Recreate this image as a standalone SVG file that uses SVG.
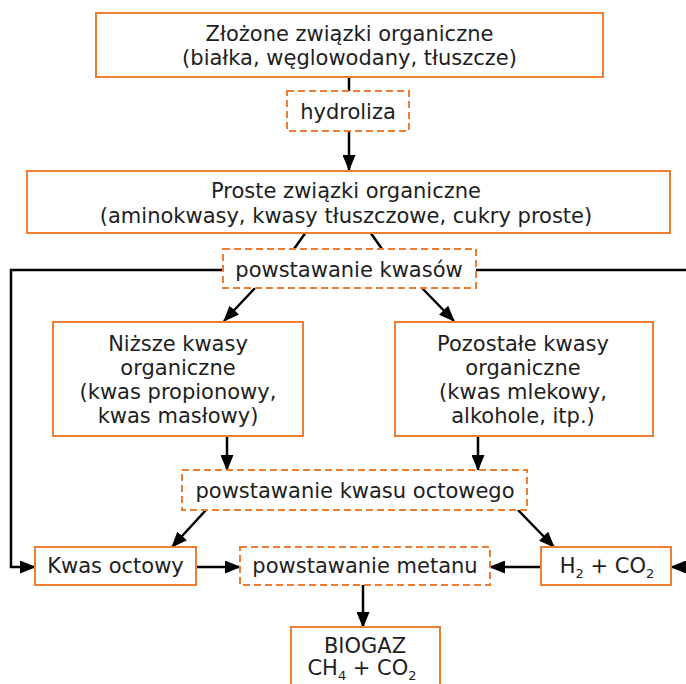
<svg xmlns="http://www.w3.org/2000/svg" width="686" height="684" viewBox="0 0 686 684">
<style>
.box{fill:#fff;stroke:#ed7d31;stroke-width:2}
.dash{fill:#fff;stroke:#ed7d31;stroke-width:2;stroke-dasharray:7,4}
text{font-family:"DejaVu Sans",Verdana,sans-serif;font-size:21px;fill:#1e1e1e;text-anchor:middle}
.sub{font-size:13px}
.c{fill:none;stroke:#000;stroke-width:2.5}
</style>
<defs>
<marker id="ah" viewBox="0 0 16 13" markerUnits="userSpaceOnUse" markerWidth="16" markerHeight="13" refX="15" refY="6.5" orient="auto">
<path d="M0,0 L16,6.5 L0,13 z" fill="#000"/>
</marker>
</defs>
<rect width="686" height="684" fill="#fff"/>
<g id="connectors">
<line class="c" x1="349" y1="77" x2="349" y2="91"/>
<line class="c" x1="349" y1="131" x2="349" y2="170" marker-end="url(#ah)"/>
<line class="c" x1="306" y1="232" x2="294" y2="249"/>
<line class="c" x1="370" y1="232" x2="382" y2="249"/>
<path class="c" d="M223,270 H11 V567 H35" marker-end="url(#ah)"/>
<path class="c" d="M476,270 H692 V567 H671" marker-end="url(#ah)"/>
<line class="c" x1="255" y1="288" x2="224" y2="321" marker-end="url(#ah)"/>
<line class="c" x1="422" y1="288" x2="454" y2="321" marker-end="url(#ah)"/>
<line class="c" x1="227" y1="436" x2="227" y2="470" marker-end="url(#ah)"/>
<line class="c" x1="478" y1="436" x2="478" y2="470" marker-end="url(#ah)"/>
<line class="c" x1="206" y1="510" x2="172" y2="547" marker-end="url(#ah)"/>
<line class="c" x1="518" y1="510" x2="554" y2="547" marker-end="url(#ah)"/>
<line class="c" x1="196" y1="567" x2="240" y2="567" marker-end="url(#ah)"/>
<line class="c" x1="541" y1="567" x2="490" y2="567" marker-end="url(#ah)"/>
<line class="c" x1="363" y1="585" x2="363" y2="627" marker-end="url(#ah)"/>
</g>
<g id="zlozone">
<rect class="box" x="96" y="13" width="507" height="64"/>
<text x="349.5" y="41">Złożone związki organiczne</text>
<text x="349.5" y="65">(białka, węglowodany, tłuszcze)</text>
</g>
<g id="hydroliza">
<rect class="dash" x="287" y="91" width="122" height="40"/>
<text x="348" y="119">hydroliza</text>
</g>
<g id="proste">
<rect class="box" x="27" y="171" width="643" height="62"/>
<text x="346" y="198">Proste związki organiczne</text>
<text x="346" y="223">(aminokwasy, kwasy tłuszczowe, cukry proste)</text>
</g>
<g id="kwasow">
<rect class="dash" x="223" y="249" width="253" height="39"/>
<text x="349" y="277">powstawanie kwasów</text>
</g>
<g id="nizsze">
<rect class="box" x="53" y="322" width="250" height="114"/>
<text x="178" y="351">Niższe kwasy</text>
<text x="178" y="375">organiczne</text>
<text x="178" y="399">(kwas propionowy,</text>
<text x="178" y="423">kwas masłowy)</text>
</g>
<g id="pozostale">
<rect class="box" x="395" y="322" width="258" height="114"/>
<text x="523" y="351">Pozostałe kwasy</text>
<text x="523" y="375">organiczne</text>
<text x="523" y="399">(kwas mlekowy,</text>
<text x="523" y="423">alkohole, itp.)</text>
</g>
<g id="octowego">
<rect class="dash" x="182" y="470" width="345" height="40"/>
<text x="355" y="498">powstawanie kwasu octowego</text>
</g>
<g id="kwas-octowy">
<rect class="box" x="35" y="547" width="161" height="38"/>
<text x="115.5" y="573">Kwas octowy</text>
</g>
<g id="metanu">
<rect class="dash" x="240" y="547" width="250" height="38"/>
<text x="365" y="573">powstawanie metanu</text>
</g>
<g id="h2co2">
<rect class="box" x="541" y="547" width="130" height="38"/>
<text x="607" y="573">H<tspan class="sub" dy="5">2</tspan><tspan dy="-5"> + CO</tspan><tspan class="sub" dy="5">2</tspan></text>
</g>
<g id="biogaz">
<rect class="box" x="291" y="627" width="149" height="70"/>
<text x="365" y="653">BIOGAZ</text>
<text x="362" y="675">CH<tspan class="sub" dy="5">4</tspan><tspan dy="-5"> + CO</tspan><tspan class="sub" dy="5">2</tspan></text>
</g>
</svg>
